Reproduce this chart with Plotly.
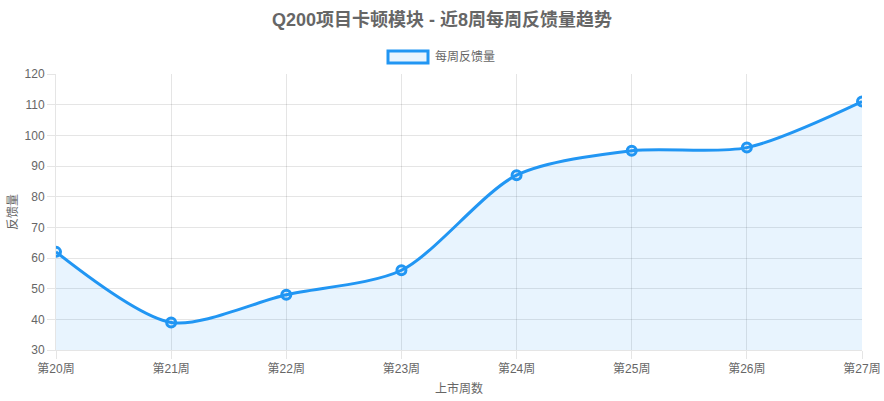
import plotly.graph_objects as go

weeks = ["第20周", "第21周", "第22周", "第23周", "第24周", "第25周", "第26周", "第27周"]
feedback = [62, 39, 48, 56, 87, 95, 96, 111]

title_text = "Q200项目卡顿模块 - 近8周每周反馈量趋势"
series_name = "每周反馈量"
x_title = "上市周数"
y_title = "反馈量"

blue = "rgb(33,150,243)"
blue_fill = "rgba(33,150,243,0.1)"
grid = "rgba(0,0,0,0.1)"
font = "Liberation Sans, Noto Sans CJK SC, sans-serif"

W, H = 884, 401
ML, MR, MT, MB = 56, 22, 74, 51
plot_w = W - ML - MR
plot_h = H - MT - MB

fig = go.Figure()
fig.add_trace(
    go.Scatter(
        x=weeks,
        y=feedback,
        name=series_name,
        mode="lines+markers",
        line={"color": blue, "width": 3, "shape": "spline", "smoothing": 0.8},
        fill="tozeroy",
        fillcolor=blue_fill,
        marker={"size": 9, "color": blue_fill, "line": {"color": blue, "width": 3}},
        showlegend=False,
    )
)

# Chart.js style legend: outlined box + label, centred above the plot
box_l, box_r, box_t, box_b = 388, 428, 51, 63


def px_x(p):
    return (p - ML) / plot_w


def px_y(p):
    return (H - MB - p) / plot_h


fig.add_shape(
    type="rect",
    xref="paper",
    yref="paper",
    x0=px_x(box_l),
    x1=px_x(box_r),
    y0=px_y(box_b),
    y1=px_y(box_t),
    line={"color": blue, "width": 3},
    fillcolor=blue_fill,
)
fig.add_annotation(
    text=series_name,
    xref="paper",
    yref="paper",
    x=px_x(box_r + 5),
    y=px_y((box_t + box_b) / 2),
    xanchor="left",
    yanchor="middle",
    showarrow=False,
    font={"size": 12, "color": "#666", "family": font},
)

axis_common = {
    "automargin": False,
    "showgrid": True,
    "gridcolor": grid,
    "gridwidth": 1,
    "showline": True,
    "linecolor": grid,
    "linewidth": 1,
    "ticks": "outside",
    "ticklen": 8,
    "tickcolor": grid,
    "tickfont": {"size": 12, "color": "#666", "family": font},
    "zeroline": False,
}

fig.update_layout(
    width=W,
    height=H,
    margin={"l": ML, "r": MR, "t": MT, "b": MB},
    paper_bgcolor="white",
    plot_bgcolor="white",
    font={"family": font, "color": "#666"},
    title={
        "text": f"<b>{title_text}</b>",
        "x": 0.5,
        "xanchor": "center",
        "y": 1 - 20 / H,
        "yanchor": "middle",
        "font": {"size": 18, "color": "#666", "family": font},
    },
    showlegend=False,
    xaxis={
        **axis_common,
        "type": "category",
        "categoryorder": "array",
        "categoryarray": weeks,
        "range": [0, len(weeks) - 1],
        "title": {"text": x_title, "font": {"size": 12, "color": "#666"}, "standoff": 9},
    },
    yaxis={
        **axis_common,
        "range": [30, 120],
        "dtick": 10,
        "title": {"text": y_title, "font": {"size": 12, "color": "#666"}, "standoff": 4},
    },
)

fig.write_html(
    "out.html",
    config={"displayModeBar": False},
    post_script="document.body.style.margin='0';",
)
